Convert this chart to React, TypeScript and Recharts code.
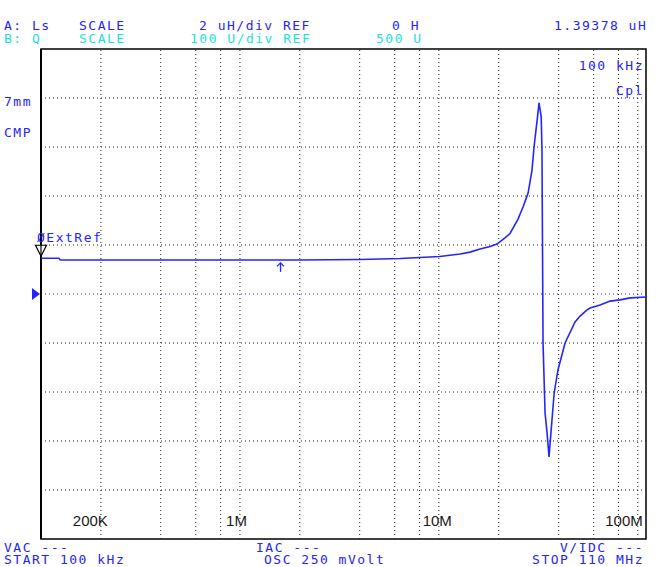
import React from "react";
import {
  LineChart,
  Line,
  XAxis,
  YAxis,
  ReferenceLine,
  ReferenceArea,
  ReferenceDot,
} from "recharts";

// frequency sweep (Hz) and Ls trace (uH)
const freqs = [
  1e5, 1.23e5, 1.25e5, 6.3e5, 2.0e6, 4.0e6, 6.4e6, 1.01e7, 1.28e7, 1.435e7,
  1.61e7, 1.81e7, 1.96e7, 2.15e7, 2.28e7, 2.36e7, 2.5e7, 2.65e7, 2.81e7,
  2.94e7, 3.01e7, 3.12e7, 3.19e7, 3.27e7, 3.3e7, 3.34e7, 3.42e7, 3.5e7,
  3.58e7, 3.66e7, 3.8e7, 3.97e7, 4.31e7, 4.84e7, 5.13e7, 5.56e7, 5.76e7,
  6.46e7, 7.26e7, 8.15e7, 9.15e7, 1.1e8,
];
const lsValues = [
  1.46, 1.46, 1.39, 1.39, 1.39, 1.41, 1.45, 1.53, 1.63, 1.71, 1.84, 1.94, 2.04,
  2.29, 2.47, 2.69, 3.06, 3.55, 4.12, 5.06, 6.0, 7.1, 7.8, 7.22, 5.88, -2.0,
  -4.86, -5.67, -6.65, -5.67, -4.04, -3.1, -2.0, -1.14, -0.9, -0.65, -0.57,
  -0.45, -0.29, -0.24, -0.16, -0.12,
];

const gridFreqs = [
  2e5, 4e5, 6e5, 8e5, 1e6, 2e6, 4e6, 6e6, 8e6, 1e7, 2e7, 4e7, 6e7, 8e7, 1e8,
];
const gridLs = [-8, -6, -4, -2, 2, 4, 6, 8];
const refLs = 0;

const tickFreqs = [2e5, 1e6, 1e7, 1e8];
const tickLabels = ["200K", "1M", "10M", "100M"];
const tickDx = [7, 7, 13, 5];

const startFreq = 1e5;
const stopFreq = 1.1e8;
const markerFreq = 1.6e6;
const markerLs = 1.39378;

const data = freqs.map((f, i) => ({ f, ls: lsValues[i] }));

const BLUE = "#2424ff";
const CYAN = "#1ee0e0";
const MONO = "'DejaVu Sans Mono', monospace";

const mono = (x: number, y: number, s: string, color = BLUE, anchor = "start") => (
  <text
    x={x}
    y={y}
    fill={color}
    fontFamily={MONO}
    fontSize={13}
    letterSpacing={1.5}
    textAnchor={anchor as any}
  >
    {s}
  </text>
);

export default function App() {
  return (
    <div style={{ position: "absolute", left: 0, top: 0, width: 672, height: 567, background: "#fff" }}>
      <LineChart
        width={672}
        height={567}
        data={data}
        margin={{ top: 49, right: 26, bottom: 28, left: 41 }}
      >
        <XAxis
          dataKey="f"
          type="number"
          scale="log"
          domain={[startFreq, stopFreq]}
          allowDataOverflow
          hide
        />
        <YAxis type="number" domain={[-10, 10]} allowDataOverflow hide />
        {gridFreqs.map((f) => (
          <ReferenceLine key={`v${f}`} x={f} stroke="#222" strokeDasharray="1 3" />
        ))}
        {gridLs.map((v) => (
          <ReferenceLine key={`h${v}`} y={v} stroke="#222" strokeDasharray="1 3" />
        ))}
        <ReferenceLine y={refLs} stroke={BLUE} strokeDasharray="1 3" />
        {tickFreqs.map((f, i) => (
          <ReferenceLine
            key={`t${f}`}
            x={f}
            stroke="none"
            label={(props: any) => {
              const vb = props.viewBox;
              return (
                <text
                  x={vb.x + tickDx[i]}
                  y={vb.y + vb.height - 13}
                  textAnchor="end"
                  fontFamily="'Liberation Sans', Arial, sans-serif"
                  fontSize={15}
                  fill="#1a1a1a"
                >
                  {tickLabels[i]}
                </text>
              );
            }}
          />
        ))}
        <ReferenceArea
          x1={startFreq}
          x2={stopFreq}
          y1={-10}
          y2={10}
          fill="none"
          stroke="#000"
          strokeWidth={1.5}
          ifOverflow="visible"
        />
        <ReferenceLine x={startFreq} stroke="#000" strokeWidth={2} />
        <Line
          type="linear"
          dataKey="ls"
          stroke={BLUE}
          strokeWidth={1.6}
          dot={false}
          isAnimationActive={false}
        />
        <ReferenceDot
          x={startFreq}
          y={refLs}
          ifOverflow="visible"
          shape={(p: any) => (
            <polygon
              points={`${p.cx - 9},${p.cy - 6} ${p.cx - 1},${p.cy} ${p.cx - 9},${p.cy + 6}`}
              fill={BLUE}
            />
          )}
        />
        <ReferenceDot
          x={startFreq}
          y={lsValues[0]}
          ifOverflow="visible"
          shape={(p: any) => (
            <g stroke="#000" strokeWidth={1.2} fill="#fff">
              <polygon
                points={`${p.cx - 5.5},${p.cy - 13} ${p.cx + 5.5},${p.cy - 13} ${p.cx},${p.cy - 2}`}
              />
              <line x1={p.cx} y1={p.cy - 13} x2={p.cx} y2={p.cy} />
            </g>
          )}
        />
        <ReferenceDot
          x={markerFreq}
          y={markerLs}
          ifOverflow="visible"
          shape={(p: any) => (
            <g stroke={BLUE} strokeWidth={1.3} fill="none">
              <line x1={p.cx} y1={p.cy + 3} x2={p.cx} y2={p.cy + 12} />
              <polyline points={`${p.cx - 3.5},${p.cy + 6.5} ${p.cx},${p.cy + 3} ${p.cx + 3.5},${p.cy + 6.5}`} />
            </g>
          )}
        />
      </LineChart>
      <svg
        width={672}
        height={567}
        style={{ position: "absolute", left: 0, top: 0, pointerEvents: "none" }}
      >
        {mono(4, 30, "A: Ls")}
        {mono(79, 30, "SCALE")}
        {mono(199, 30, "2 uH/div REF")}
        {mono(392, 30, "0 H")}
        {mono(554, 30, "1.39378 uH")}
        {mono(4, 43, "B: Q", CYAN)}
        {mono(79, 43, "SCALE", CYAN)}
        {mono(190, 43, "100 U/div REF", CYAN)}
        {mono(376, 43, "500 U", CYAN)}
        {mono(644, 70, "100 kHz", BLUE, "end")}
        {mono(644, 95, "Cpl", BLUE, "end")}
        {mono(4, 106, "7mm")}
        {mono(4, 137, "CMP")}
        {mono(37, 242, "ØExtRef")}
        {mono(4, 552, "VAC ---")}
        {mono(4, 564, "START 100 kHz")}
        {mono(256, 552, "IAC ---")}
        {mono(264, 564, "OSC 250 mVolt")}
        {mono(644, 552, "V/IDC ---", BLUE, "end")}
        {mono(644, 564, "STOP 110 MHz", BLUE, "end")}
      </svg>
    </div>
  );
}
